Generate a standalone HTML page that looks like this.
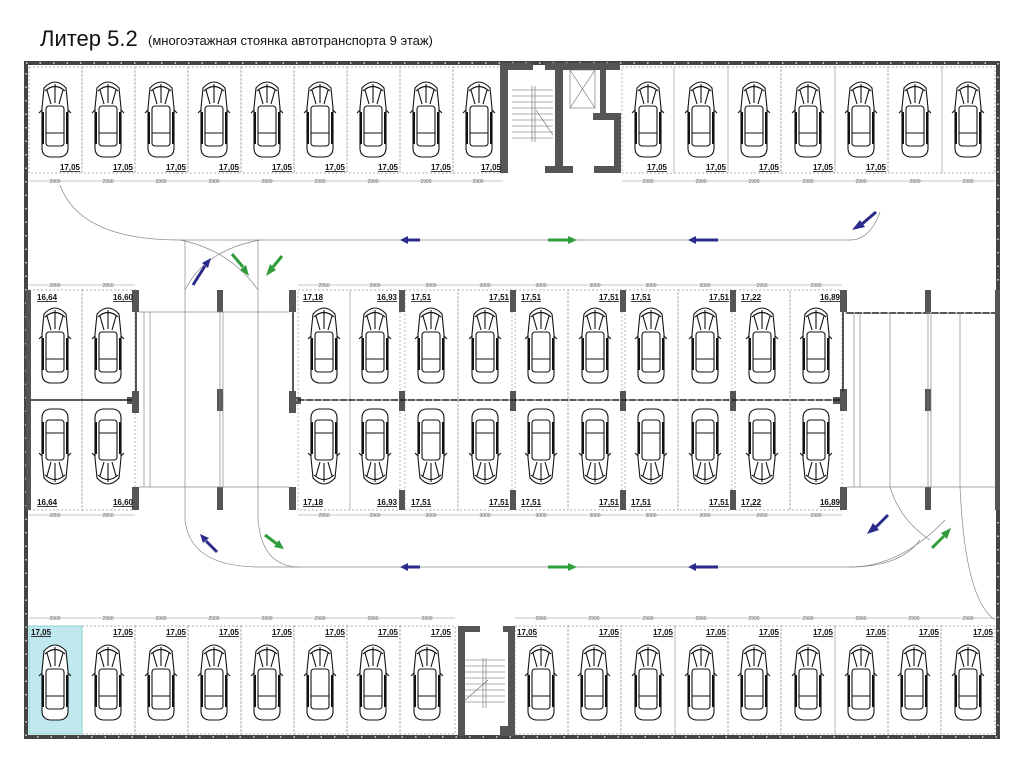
<!DOCTYPE html>
<html><head><meta charset="utf-8"><style>
html,body{margin:0;padding:0;background:#fff}
svg{display:block}
.t{font-family:"Liberation Sans",sans-serif;font-size:8px;font-weight:bold;text-decoration:underline;fill:#111}
.d{font-family:"Liberation Sans",sans-serif;font-size:5px;fill:#666}
</style></head><body>
<svg width="1024" height="759" viewBox="0 0 1024 759" xmlns="http://www.w3.org/2000/svg">
<defs>
<g id="car" fill="none" stroke="#111" stroke-width="1.1">
<path d="M6 10 Q17 -2 28 10 L30 30 L30 70 Q30 78 22 79 L12 79 Q4 78 4 70 L4 30 Z" fill="#fff"/>
<path d="M7 13 Q17 4 27 13"/>
<path d="M9 12 L13 26 M17 6 L17 25 M25 12 L21 26"/>
<rect x="8" y="28" width="18" height="40" rx="3"/>
<path d="M8 55 L26 55 M4 32 L1 35 M30 32 L33 35"/>
<path d="M5 34 L5 66 M29 34 L29 66" stroke-width="2"/>
</g>
<g id="carD"><use href="#car" transform="translate(0,80) scale(1,-1)"/></g>
<marker id="ah" markerWidth="6" markerHeight="6" refX="5" refY="3" orient="auto"><path d="M0 0 L6 3 L0 6 Z" /></marker>
</defs>

<text x="40" y="46" font-family="Liberation Sans, sans-serif" font-size="22" fill="#111" style="font-stretch:condensed">Литер 5.2</text>
<text x="148" y="45" font-family="Liberation Sans, sans-serif" font-size="13" fill="#111">(многоэтажная стоянка автотранспорта 9 этаж)</text>

<!-- outer frame -->
<rect x="26" y="63" width="972" height="674" fill="none" stroke="#444" stroke-width="4"/>
<rect x="26" y="63" width="972" height="674" fill="none" stroke="#fff" stroke-width="1.2" stroke-dasharray="1.5 12"/>

<!-- top row slots -->
<g fill="none" stroke="#999" stroke-width="0.7" stroke-dasharray="2 2">
<rect x="29" y="67" width="53" height="106"/><rect x="82" y="67" width="53" height="106"/><rect x="135" y="67" width="53" height="106"/><rect x="188" y="67" width="53" height="106"/><rect x="241" y="67" width="53" height="106"/><rect x="294" y="67" width="53" height="106"/><rect x="347" y="67" width="53" height="106"/><rect x="400" y="67" width="53" height="106"/><rect x="453" y="67" width="50" height="106"/>
<rect x="622" y="67" width="52" height="106"/><rect x="674" y="67" width="54" height="106"/><rect x="728" y="67" width="53" height="106"/><rect x="781" y="67" width="54" height="106"/><rect x="835" y="67" width="53" height="106"/><rect x="888" y="67" width="54" height="106"/><rect x="942" y="67" width="53" height="106"/>
<!-- bottom row -->
<rect x="29" y="626" width="53" height="108"/><rect x="82" y="626" width="53" height="108"/><rect x="135" y="626" width="53" height="108"/><rect x="188" y="626" width="53" height="108"/><rect x="241" y="626" width="53" height="108"/><rect x="294" y="626" width="53" height="108"/><rect x="347" y="626" width="53" height="108"/><rect x="400" y="626" width="55" height="108"/>
<rect x="515" y="626" width="53" height="108"/><rect x="568" y="626" width="53" height="108"/><rect x="621" y="626" width="54" height="108"/><rect x="675" y="626" width="53" height="108"/><rect x="728" y="626" width="53" height="108"/><rect x="781" y="626" width="54" height="108"/><rect x="835" y="626" width="53" height="108"/><rect x="888" y="626" width="53" height="108"/><rect x="941" y="626" width="54" height="108"/>
<!-- middle -->
<rect x="29" y="290" width="53" height="220"/><rect x="82" y="290" width="53" height="220"/>
<rect x="298" y="290" width="52" height="220"/><rect x="350" y="290" width="50" height="220"/>
<rect x="405" y="290" width="53" height="220"/><rect x="458" y="290" width="54" height="220"/>
<rect x="515" y="290" width="53" height="220"/><rect x="568" y="290" width="54" height="220"/>
<rect x="625" y="290" width="53" height="220"/><rect x="678" y="290" width="54" height="220"/>
<rect x="735" y="290" width="55" height="220"/><rect x="790" y="290" width="52" height="220"/>
</g>
<rect x="29" y="626" width="53" height="108" fill="#bfe9ee" stroke="#7cc" stroke-width="0.7"/>

<!-- top stair/lift block -->
<g fill="#555">
<rect x="500" y="63" width="33" height="7"/><rect x="500" y="63" width="8" height="110"/>
<rect x="545" y="63" width="75" height="7"/><rect x="555" y="63" width="8" height="110"/>
<rect x="600" y="63" width="6" height="55"/><rect x="593" y="113" width="28" height="7"/><rect x="614" y="113" width="7" height="60"/>
<rect x="545" y="166" width="28" height="7"/><rect x="594" y="166" width="27" height="7"/>
</g>
<g stroke="#666" stroke-width="0.6" fill="none">
<rect x="570" y="70" width="25" height="38"/><path d="M570 70 L595 108 M595 70 L570 108"/>
<path d="M512 90 H553 M512 96 H553 M512 102 H553 M512 108 H553 M512 114 H553 M512 120 H553 M512 126 H553 M512 132 H553 M512 138 H553 M532 86 V142 M535 86 V142 M536 110 L553 135"/>
</g>
<!-- bottom stair -->
<g fill="#555">
<rect x="458" y="626" width="22" height="6"/><rect x="458" y="626" width="7" height="110"/>
<rect x="503" y="626" width="12" height="6"/><rect x="508" y="626" width="7" height="100"/><rect x="500" y="726" width="15" height="10"/>
</g>
<g stroke="#666" stroke-width="0.6" fill="none">
<path d="M465 660 H505 M465 666 H505 M465 672 H505 M465 678 H505 M465 684 H505 M465 690 H505 M465 696 H505 M465 702 H505 M483 658 V708 M486 658 V708 M463 702 L488 680"/>
</g>

<!-- middle structure -->
<g fill="#555">
<rect x="26" y="290" width="5" height="220"/>
<rect x="132" y="290" width="7" height="22"/><rect x="132" y="391" width="7" height="22"/><rect x="127" y="397" width="12" height="7"/><rect x="132" y="487" width="7" height="23"/>
<rect x="217" y="290" width="6" height="22"/><rect x="217" y="389" width="6" height="22"/><rect x="217" y="487" width="6" height="23"/>
<rect x="289" y="290" width="7" height="22"/><rect x="289" y="391" width="7" height="22"/><rect x="289" y="397" width="12" height="7"/><rect x="289" y="487" width="7" height="23"/>
<rect x="399" y="290" width="6" height="22"/><rect x="399" y="391" width="6" height="20"/><rect x="399" y="490" width="6" height="20"/>
<rect x="510" y="290" width="6" height="22"/><rect x="510" y="391" width="6" height="20"/><rect x="510" y="490" width="6" height="20"/>
<rect x="620" y="290" width="6" height="22"/><rect x="620" y="391" width="6" height="20"/><rect x="620" y="490" width="6" height="20"/>
<rect x="730" y="290" width="6" height="22"/><rect x="730" y="391" width="6" height="20"/><rect x="730" y="490" width="6" height="20"/>
<rect x="840" y="290" width="7" height="22"/><rect x="840" y="389" width="7" height="22"/><rect x="833" y="397" width="12" height="7"/><rect x="840" y="487" width="7" height="23"/>
<rect x="925" y="290" width="6" height="22"/><rect x="925" y="389" width="6" height="22"/><rect x="925" y="487" width="6" height="23"/>
<rect x="995" y="290" width="5" height="220"/>
</g>
<g stroke="#222" stroke-width="1.5" fill="none">
<path d="M31 400 H132 M296 400 H840 M845 313 H995 M136 312 V391 M293 312 V391 M843 312 V391"/>
</g>
<g stroke="#fff" stroke-width="1" stroke-dasharray="1.5 7" fill="none">
<path d="M845 313 H995 M296 400 H840"/>
</g>
<g stroke="#888" stroke-width="0.7" fill="none">
<path d="M139 312 H289 M139 487 H289 M847 487 H995 M144 312 V487 M150 312 V487 M220 312 V487 M223 312 V487 M854 312 V487 M860 312 V487 M928 312 V487 M931 312 V487"/>
<path d="M60 185 Q80 240 180 240 H850 Q870 240 880 212"/>
<path d="M185 240 Q185 260 185 290 V520 Q190 567 260 567 H850 Q900 567 945 520"/>
<path d="M258 240 Q258 270 258 290 V520 Q262 567 300 567"/>
<path d="M180 240 Q230 250 258 290 M260 240 Q205 250 185 290"/>
<path d="M890 312 V487 Q900 520 930 540 M960 312 V487 Q965 600 995 620"/>
<path d="M920 540 Q900 567 850 567"/>
</g>

<!-- cars top -->
<use href="#car" x="38" y="78"/><use href="#car" x="91" y="78"/><use href="#car" x="144" y="78"/><use href="#car" x="197" y="78"/><use href="#car" x="250" y="78"/><use href="#car" x="303" y="78"/><use href="#car" x="356" y="78"/><use href="#car" x="409" y="78"/><use href="#car" x="462" y="78"/>
<use href="#car" x="631" y="78"/><use href="#car" x="684" y="78"/><use href="#car" x="737" y="78"/><use href="#car" x="791" y="78"/><use href="#car" x="844" y="78"/><use href="#car" x="898" y="78"/><use href="#car" x="951" y="78"/>
<!-- middle upper -->
<use href="#car" x="38" y="304"/><use href="#car" x="91" y="304"/>
<use href="#car" x="307" y="304"/><use href="#car" x="358" y="304"/><use href="#car" x="414" y="304"/><use href="#car" x="468" y="304"/><use href="#car" x="524" y="304"/><use href="#car" x="578" y="304"/><use href="#car" x="634" y="304"/><use href="#car" x="688" y="304"/><use href="#car" x="745" y="304"/><use href="#car" x="799" y="304"/>
<!-- middle lower -->
<use href="#carD" x="38" y="408"/><use href="#carD" x="91" y="408"/>
<use href="#carD" x="307" y="408"/><use href="#carD" x="358" y="408"/><use href="#carD" x="414" y="408"/><use href="#carD" x="468" y="408"/><use href="#carD" x="524" y="408"/><use href="#carD" x="578" y="408"/><use href="#carD" x="634" y="408"/><use href="#carD" x="688" y="408"/><use href="#carD" x="745" y="408"/><use href="#carD" x="799" y="408"/>
<!-- bottom -->
<use href="#car" x="38" y="641"/><use href="#car" x="91" y="641"/><use href="#car" x="144" y="641"/><use href="#car" x="197" y="641"/><use href="#car" x="250" y="641"/><use href="#car" x="303" y="641"/><use href="#car" x="356" y="641"/><use href="#car" x="410" y="641"/>
<use href="#car" x="524" y="641"/><use href="#car" x="577" y="641"/><use href="#car" x="631" y="641"/><use href="#car" x="684" y="641"/><use href="#car" x="737" y="641"/><use href="#car" x="791" y="641"/><use href="#car" x="844" y="641"/><use href="#car" x="897" y="641"/><use href="#car" x="951" y="641"/>

<!-- labels -->
<g class="t" text-anchor="end">
<text x="80" y="170">17,05</text><text x="133" y="170">17,05</text><text x="186" y="170">17,05</text><text x="239" y="170">17,05</text><text x="292" y="170">17,05</text><text x="345" y="170">17,05</text><text x="398" y="170">17,05</text><text x="451" y="170">17,05</text><text x="501" y="170">17,05</text>
<text x="667" y="170">17,05</text><text x="726" y="170">17,05</text><text x="779" y="170">17,05</text><text x="833" y="170">17,05</text><text x="886" y="170">17,05</text>
<text x="133" y="300">16,60</text><text x="133" y="505">16,60</text><text x="397" y="300">16,93</text><text x="397" y="505">16,93</text>
<text x="509" y="300">17,51</text><text x="509" y="505">17,51</text><text x="619" y="300">17,51</text><text x="619" y="505">17,51</text><text x="729" y="300">17,51</text><text x="729" y="505">17,51</text><text x="840" y="300">16,89</text><text x="840" y="505">16,89</text>
<text x="133" y="635">17,05</text><text x="186" y="635">17,05</text><text x="239" y="635">17,05</text><text x="292" y="635">17,05</text><text x="345" y="635">17,05</text><text x="398" y="635">17,05</text><text x="451" y="635">17,05</text>
<text x="619" y="635">17,05</text><text x="673" y="635">17,05</text><text x="726" y="635">17,05</text><text x="779" y="635">17,05</text><text x="833" y="635">17,05</text><text x="886" y="635">17,05</text><text x="939" y="635">17,05</text><text x="993" y="635">17,05</text>
</g>
<g class="t">
<text x="37" y="300">16,64</text><text x="37" y="505">16,64</text><text x="303" y="300">17,18</text><text x="303" y="505">17,18</text>
<text x="411" y="300">17,51</text><text x="411" y="505">17,51</text><text x="521" y="300">17,51</text><text x="521" y="505">17,51</text><text x="631" y="300">17,51</text><text x="631" y="505">17,51</text><text x="741" y="300">17,22</text><text x="741" y="505">17,22</text>
<text x="31" y="635">17,05</text><text x="517" y="635">17,05</text>
</g>

<!-- dimension lines -->
<g stroke="#888" stroke-width="0.5">
<path d="M29 181 H503 M622 181 H995 M29 285 H135 M298 285 H842 M29 515 H135 M298 515 H842 M29 618 H455 M515 618 H995"/>
</g>
<g class="d" text-anchor="middle">
<text x="55" y="183">2900</text><text x="108" y="183">2900</text><text x="161" y="183">2900</text><text x="214" y="183">2900</text><text x="267" y="183">2900</text><text x="320" y="183">2900</text><text x="373" y="183">2900</text><text x="426" y="183">2900</text><text x="478" y="183">2900</text>
<text x="648" y="183">2900</text><text x="701" y="183">2900</text><text x="754" y="183">2900</text><text x="808" y="183">2900</text><text x="861" y="183">2900</text><text x="915" y="183">2900</text><text x="968" y="183">2900</text>
<text x="55" y="287">2850</text><text x="108" y="287">2850</text><text x="55" y="517">2850</text><text x="108" y="517">2850</text>
<text x="324" y="287">2950</text><text x="375" y="287">2900</text><text x="431" y="287">3000</text><text x="485" y="287">3000</text><text x="541" y="287">3000</text><text x="595" y="287">3000</text><text x="651" y="287">3000</text><text x="705" y="287">3000</text><text x="762" y="287">2950</text><text x="816" y="287">2900</text>
<text x="324" y="517">2950</text><text x="375" y="517">2900</text><text x="431" y="517">3000</text><text x="485" y="517">3000</text><text x="541" y="517">3000</text><text x="595" y="517">3000</text><text x="651" y="517">3000</text><text x="705" y="517">3000</text><text x="762" y="517">2950</text><text x="816" y="517">2900</text>
<text x="55" y="620">2900</text><text x="108" y="620">2900</text><text x="161" y="620">2900</text><text x="214" y="620">2900</text><text x="267" y="620">2900</text><text x="320" y="620">2900</text><text x="373" y="620">2900</text><text x="427" y="620">2900</text>
<text x="541" y="620">2900</text><text x="594" y="620">2900</text><text x="648" y="620">2900</text><text x="701" y="620">2900</text><text x="754" y="620">2900</text><text x="808" y="620">2900</text><text x="861" y="620">2900</text><text x="914" y="620">2900</text><text x="968" y="620">2900</text>
</g>

<!-- direction arrows -->
<g stroke-width="3" fill="none" stroke-linecap="butt">
<g stroke="#2b2b8a" fill="#2b2b8a">
<line x1="420" y1="240" x2="408" y2="240"/><path d="M408 236 L400 240 L408 244 Z" stroke="none"/>
<line x1="718" y1="240" x2="696" y2="240"/><path d="M696 236 L688 240 L696 244 Z" stroke="none"/>
<line x1="420" y1="567" x2="408" y2="567"/><path d="M408 563 L400 567 L408 571 Z" stroke="none"/>
<line x1="718" y1="567" x2="696" y2="567"/><path d="M696 563 L688 567 L696 571 Z" stroke="none"/>
<line x1="193" y1="285" x2="205" y2="266"/><path d="M202 263 L211 258 L208 268 Z" stroke="none"/>
<line x1="217" y1="552" x2="206" y2="541"/><path d="M209 538 L200 534 L203 543 Z" stroke="none"/>
<line x1="876" y1="212" x2="862" y2="224"/><path d="M860 220 L852 230 L865 227 Z" stroke="none"/>
<line x1="888" y1="515" x2="876" y2="527"/><path d="M873 523 L867 534 L879 530 Z" stroke="none"/>
</g>
<g stroke="#2e9d3a" fill="#2e9d3a">
<line x1="548" y1="240" x2="568" y2="240"/><path d="M568 236 L577 240 L568 244 Z" stroke="none"/>
<line x1="548" y1="567" x2="568" y2="567"/><path d="M568 563 L577 567 L568 571 Z" stroke="none"/>
<line x1="232" y1="254" x2="243" y2="267"/><path d="M240 270 L249 276 L246 265 Z" stroke="none"/>
<line x1="282" y1="256" x2="273" y2="267"/><path d="M270 264 L266 276 L276 270 Z" stroke="none"/>
<line x1="265" y1="535" x2="277" y2="544"/><path d="M274 547 L284 549 L279 540 Z" stroke="none"/>
<line x1="932" y1="548" x2="944" y2="536"/><path d="M941 533 L951 528 L947 539 Z" stroke="none"/>
</g>
</g>
</svg>
</body></html>
